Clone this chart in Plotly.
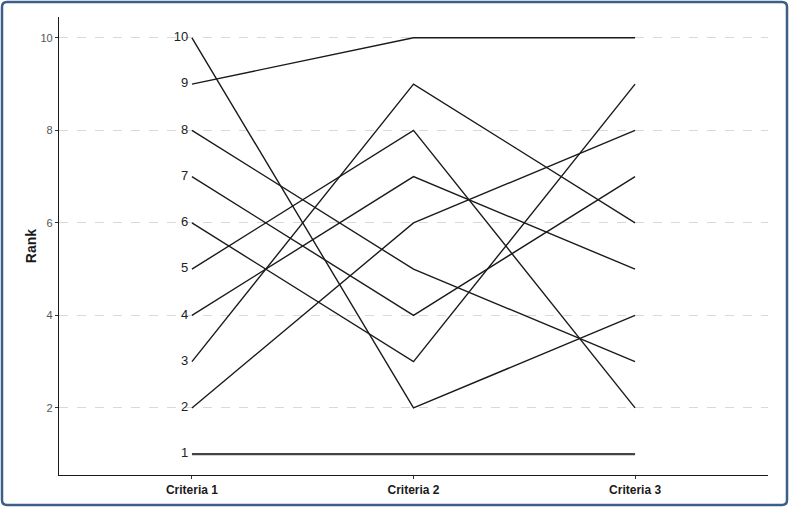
import plotly.graph_objects as go

criteria = ["Criteria 1", "Criteria 2", "Criteria 3"]
rank_c1 = [1, 2, 3, 4, 5, 6, 7, 8, 9, 10]
rank_c2 = [1, 6, 9, 7, 8, 3, 4, 5, 10, 2]
rank_c3 = [1, 8, 6, 5, 2, 9, 7, 3, 10, 4]
y_ticks = [2, 4, 6, 8, 10]

fig = go.Figure()
for i in range(len(rank_c1)):
    ys = [rank_c1[i], rank_c2[i], rank_c3[i]]
    is_one = rank_c1[i] == 1
    fig.add_trace(go.Scatter(
        x=[1, 2, 3], y=ys, mode="lines",
        line=dict(color="#444444" if is_one else "#1a1a1a", width=2.2 if is_one else 1.4),
        hoverinfo="skip", showlegend=False))

fig.add_trace(go.Scatter(
    x=[1] * len(rank_c1), y=rank_c1, mode="text",
    text=[str(r) + " " for r in rank_c1], textposition="middle left",
    textfont=dict(family="Liberation Sans, Arial, sans-serif", size=13, color="#222222"),
    hoverinfo="skip", showlegend=False))

# rounded border around the whole figure (in paper coordinates)
W, H, L, T, PW, PH = 789, 507, 59, 17, 709, 458
def px(x):
    return (x - L) / PW
def py(y):
    return (T + PH - y) / PH
x0, x1, y0, y1, r = 2, 787, 2, 505, 5
border_path = (
    f"M {px(x0 + r)} {py(y0)} L {px(x1 - r)} {py(y0)} "
    f"Q {px(x1)} {py(y0)} {px(x1)} {py(y0 + r)} L {px(x1)} {py(y1 - r)} "
    f"Q {px(x1)} {py(y1)} {px(x1 - r)} {py(y1)} L {px(x0 + r)} {py(y1)} "
    f"Q {px(x0)} {py(y1)} {px(x0)} {py(y1 - r)} L {px(x0)} {py(y0 + r)} "
    f"Q {px(x0)} {py(y0)} {px(x0 + r)} {py(y0)} Z"
)

fig.update_layout(
    width=W, height=H,
    margin=dict(l=L, r=W - L - PW, t=T, b=H - T - PH),
    paper_bgcolor="white", plot_bgcolor="white",
    font=dict(family="Liberation Sans, Arial, sans-serif"),
    xaxis=dict(
        range=[0.4, 3.6], tickmode="array", tickvals=[1, 2, 3], ticktext=criteria,
        tickfont=dict(size=12, color="#1a1a1a", family="Liberation Sans, Arial, sans-serif", weight="bold"),
        showgrid=False, zeroline=False, showline=True, linecolor="#1a1a1a", linewidth=1.3,
        ticks="outside", ticklen=3, tickcolor="#333333", tickwidth=1, automargin=False),
    yaxis=dict(
        range=[0.55, 10.45], tickmode="array", tickvals=y_ticks,
        tickfont=dict(size=11, color="#555555"),
        showgrid=True, gridcolor="#d9d9d9", griddash="dash", gridwidth=1,
        zeroline=False, showline=True, linecolor="#1a1a1a", linewidth=1.3,
        ticks="outside", ticklen=3, tickcolor="#333333", tickwidth=1, automargin=False,
        title=dict(text="<b>Rank</b>", font=dict(size=14, color="#1a1a1a"), standoff=0)),
    shapes=[dict(type="path", xref="paper", yref="paper", path=border_path,
                 line=dict(color="#3d5f87", width=2.5), fillcolor="rgba(0,0,0,0)", layer="above")],
)

fig.write_html("out.html", config={"displayModeBar": False},
               post_script="document.body.style.margin='0';document.body.style.overflow='hidden';")
